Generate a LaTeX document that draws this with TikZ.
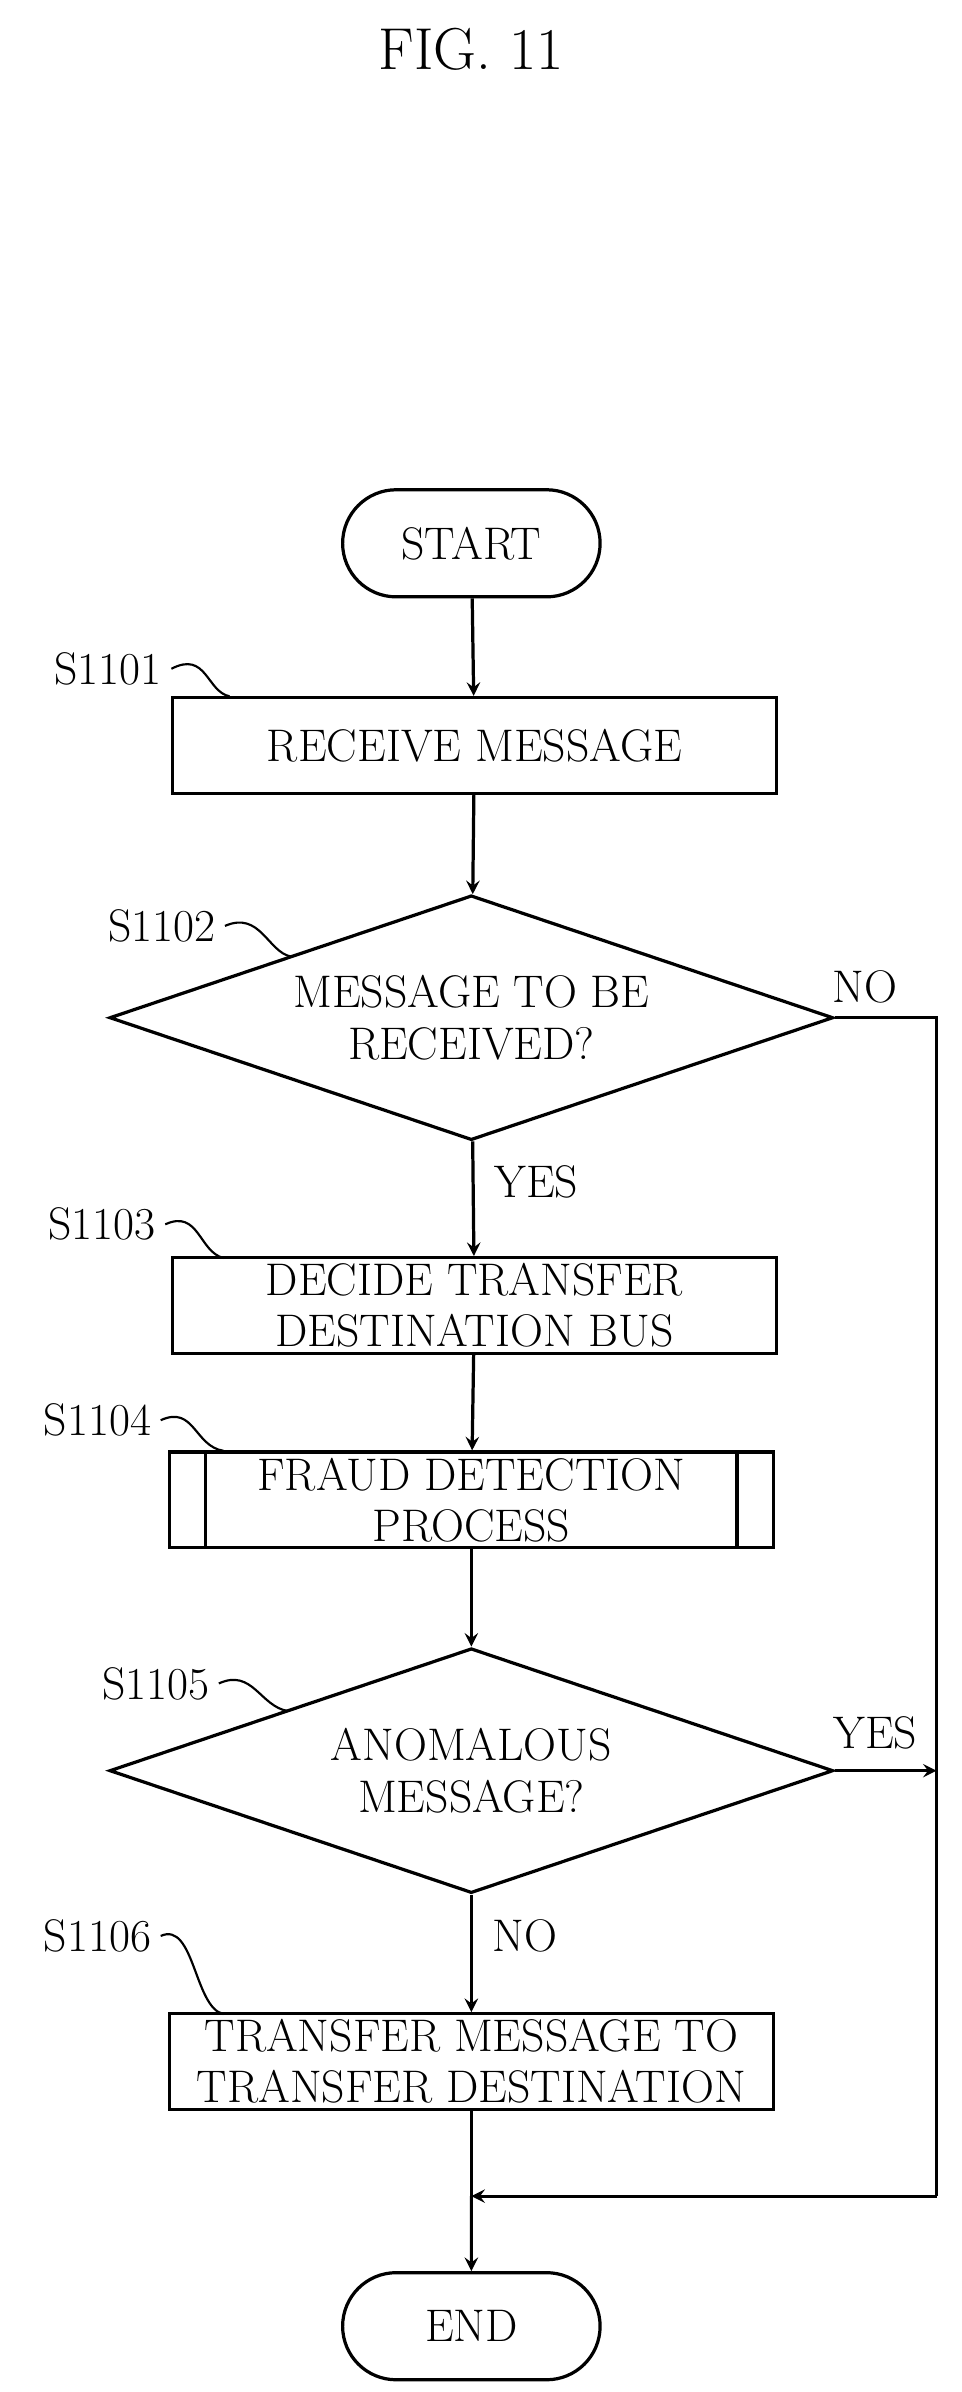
\documentclass[tikz,border=0pt]{standalone}
\usetikzlibrary{shapes.geometric,shapes.misc}
\begin{document}
\begin{tikzpicture}[x=0.02cm,y=-0.02cm,
font=\fontsize{17}{19}\selectfont,
box/.style={draw,line width=1.2pt,minimum width=7.9cm,minimum height=1.25cm,align=center,inner sep=1pt},
term/.style={draw,line width=1.2pt,rounded rectangle,minimum width=3.6cm,minimum height=1.4cm},
dec/.style={draw,line width=1.2pt,diamond,aspect=2.95,minimum width=9.46cm,minimum height=3.2cm,align=center,inner sep=0pt},
arr/.style={->,>=stealth,line width=1.2pt},
lbl/.style={anchor=east},
lead/.style={line width=0.8pt}
]
\useasboundingbox (0,0) rectangle (628,1563);
\node at (308,32) {\fontsize{22}{24}\selectfont FIG. 11};

\node[term] (start) at (308,355) {START};
\node[box] (s1) at (310,487) {RECEIVE MESSAGE};
\node[dec] (d1) at (308,665) {MESSAGE TO BE\\RECEIVED?};
\node[box] (s3) at (310,853) {DECIDE TRANSFER\\DESTINATION BUS};
\node[box] (s4) at (308,980) {FRAUD DETECTION\\PROCESS};
\draw[line width=1.2pt] ([xshift=0.5cm]s4.north west) -- ([xshift=0.5cm]s4.south west)
  ([xshift=-0.5cm]s4.north east) -- ([xshift=-0.5cm]s4.south east);
\node[dec] (d2) at (308,1157) {ANOMALOUS\\MESSAGE?};
\node[box] (s6) at (308,1347) {TRANSFER MESSAGE TO\\TRANSFER DESTINATION};
\node[term] (end) at (308,1520) {END};
\coordinate (nr) at (612,665);
\coordinate (yr) at (612,1157);
\coordinate (mr) at (612,1435);
\coordinate (m) at (308,1435);

\draw[arr] (start) -- (s1);
\draw[arr] (s1) -- (d1);
\draw[arr] (d1) -- node[pos=0.35,right,xshift=4pt] {YES} (s3);
\draw[arr] (s3) -- (s4);
\draw[arr] (s4) -- (d2);
\draw[arr] (d2) -- node[pos=0.35,right,xshift=4pt] {NO} (s6);
\draw[line width=1.2pt] (s6) -- (m);
\draw[arr] (m) -- (end);
\draw[line width=1.2pt] (d1.east) -- (nr) -- (mr);
\draw[arr] (mr) -- (m);
\draw[arr] (d2.east) -- (yr);
\node at (565,645) {NO};
\node at (572,1132) {YES};

% step labels
\node[lbl] (l1) at (112,437) {S1101};
\node[lbl] (l2) at (147,605) {S1102};
\node[lbl] (l3) at (108,800) {S1103};
\node[lbl] (l4) at (105,928) {S1104};
\node[lbl] (l5) at (143,1100) {S1105};
\node[lbl] (l6) at (105,1265) {S1106};
\draw[lead] (l1.east) .. controls (135,425) and (135,452) .. (150,455);
\draw[lead] (l2.east) .. controls (170,595) and (175,622) .. (190,625);
\draw[lead] (l3.east) .. controls (130,790) and (130,818) .. (146,822);
\draw[lead] (l4.east) .. controls (127,918) and (127,945) .. (146,948);
\draw[lead] (l5.east) .. controls (165,1090) and (170,1115) .. (188,1118);
\draw[lead] (l6.east) .. controls (127,1255) and (127,1312) .. (146,1316);
\end{tikzpicture}
\end{document}
